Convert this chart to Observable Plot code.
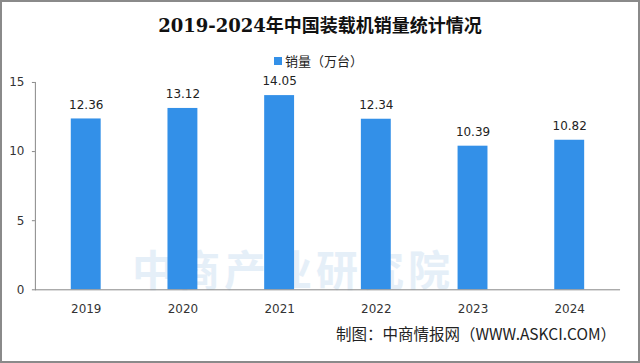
<!DOCTYPE html>
<html><head><meta charset="utf-8">
<script src="https://cdn.jsdelivr.net/npm/d3@7"></script>
<script src="https://cdn.jsdelivr.net/npm/@observablehq/plot@0.6"></script>
<style>
body{margin:0;background:#fff;}
#wrap{position:relative;width:640px;height:363px;box-sizing:border-box;border:2px solid #8a8a8a;overflow:hidden;font-family:"Noto Sans CJK SC","DejaVu Sans",sans-serif;}
#title{position:absolute;top:9px;left:0;width:100%;text-align:center;font-family:"DejaVu Serif","Noto Sans CJK SC",serif;font-weight:bold;font-size:18px;color:#111;}
#legend{position:absolute;top:49px;left:272px;font-size:13px;color:#222;display:flex;align-items:center;}
#legend span.sw{display:inline-block;width:8px;height:8px;background:#3390e8;margin-right:3px;}
#chart{position:absolute;top:68px;left:-2px;}
#caption{position:absolute;top:320px;right:22px;font-size:15.5px;color:#222;}
#wm{position:absolute;top:245px;left:130px;font-size:42px;line-height:42px;height:42px;font-weight:bold;color:#dbe9f6;letter-spacing:4px;opacity:0.7;}
</style></head>
<body>
<div id="wrap">
  <div id="wm">中商产业研究院</div>
  <div id="title">2019-2024年中国装载机销量统计情况</div>
  <div id="legend"><span class="sw"></span>销量（万台）</div>
  <div id="chart"></div>
  <div id="caption">制图：中商情报网（WWW.ASKCI.COM）</div>
</div>
<script>
const years = ["2019", "2020", "2021", "2022", "2023", "2024"];
const sales = [12.36, 13.12, 14.05, 12.34, 10.39, 10.82];
const yTicks = [0, 5, 10, 15];
const seriesName = "销量（万台）";

const data = years.map((y, i) => ({year: y, value: sales[i]}));

const chart = Plot.plot({
  width: 640,
  height: 250,
  marginLeft: 35,
  marginRight: 18,
  marginTop: 12,
  marginBottom: 30,
  style: {fontFamily: "'DejaVu Sans', sans-serif", fontSize: "12px", color: "#333", background: "transparent"},
  x: {domain: years, paddingInner: 0.69, paddingOuter: 0.345, label: null},
  y: {domain: [0, 15], ticks: yTicks, label: null},
  marks: [
    Plot.barY(data, {x: "year", y: "value", fill: "#3390e8"}),
    Plot.ruleY([0], {stroke: "#888"}),
    Plot.axisY({ticks: yTicks, tickSize: 3, tickPadding: 8, stroke: "#888", label: null, fontSize: 12}),
    Plot.frame({anchor: "left", stroke: "#888"}),
    Plot.axisX({tickSize: 0, tickPadding: 15, label: null, fontSize: 12}),
    Plot.text(data, {x: "year", y: "value", text: d => d.value.toFixed(2), dy: -14, fontSize: 12, fill: "#222"})
  ]
});
document.getElementById("chart").appendChild(chart);
</script>
</body></html>
